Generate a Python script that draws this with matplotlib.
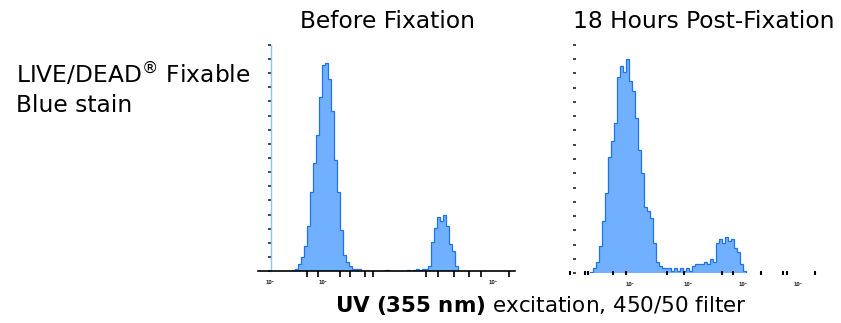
import numpy as np
import matplotlib
matplotlib.use("Agg")
import matplotlib.pyplot as plt

# event counts per 12-channel bin
before_start = 136
before_counts = [0.5, 1, 3, 6, 11, 20, 35, 48, 60, 77, 91, 92, 85, 71, 49, 35,
                 18, 7, 4, 2, 1, 1, 1, 0, 0, 0, 0, 0, 0, 0, 0, 0.5, 0, 0, 0, 0,
                 0, 0, 0.5, 0, 0.5, 1, 0.5, 1, 1, 2, 13, 19, 24, 22, 25, 20, 12,
                 9, 2]

after_start = 108
after_counts = [0.5, 2, 5, 12, 23, 35, 51, 58, 66, 86, 91, 88, 94, 84, 80, 68,
                54, 44, 29, 27, 24, 13, 5, 3, 2, 2, 2, 1, 2, 1, 2, 1, 2, 1, 3,
                4, 4, 4, 5, 4, 6, 5, 13, 15, 13, 16, 14, 15, 11, 9, 4, 1]
bin_width = 12

before_xticks = [196, 240, 328, 368, 428, 460, 668, 716, 780, 840, 888, 1000]
after_xticks = [28, 88, 100, 200, 252, 416, 484, 636, 680, 792, 880, 896, 1008]
before_decades = [(48, "10⁰"), (260, "10¹"), (936, "10³")]
after_decades = [(268, "10¹"), (500, "10²"), (720, "10³"), (940, "10⁴")]
yticks = np.linspace(0, 100, 17)

fill_c = "#70b0ff"
edge_c = "#1f74ee"

W, H = 841, 323
fig = plt.figure(figsize=(W / 100, H / 100), dpi=100)


def panel(rect, start, counts, xticks, decades, with_line):
    ax = fig.add_axes(rect)
    edges = start + bin_width * np.arange(len(counts) + 1)
    ax.stairs(counts, edges, fill=True, color=fill_c, lw=0)
    ax.stairs(counts, edges, color=edge_c, lw=0.9)
    ax.set_xlim(0, 1024)
    ax.set_ylim(0, 100)
    for s in ["top", "right"]:
        ax.spines[s].set_visible(False)
    ax.spines["left"].set_position(("data", 52))
    ax.spines["left"].set_color("#8cc2ff")
    ax.spines["left"].set_linewidth(1.0)
    if with_line:
        ax.spines["bottom"].set_color("black")
        ax.spines["bottom"].set_linewidth(1.2)
        ax.tick_params(axis="x", direction="out", length=4, width=1.2)
    else:
        ax.spines["bottom"].set_visible(False)
        ax.spines["left"].set_visible(False)
        ax.tick_params(axis="x", direction="inout", length=3, width=1.5)
    ax.set_xticks(xticks)
    ax.set_yticks(yticks)
    ax.tick_params(labelbottom=False, labelleft=False)
    ax.xaxis.offsetText.set_visible(False)
    ax.yaxis.offsetText.set_visible(False)
    ax.tick_params(axis="y", direction="out", length=2.5, width=1.2,
                   color="#222222")
    for x, lab in decades:
        ax.text(x, -0.04, lab, transform=ax.get_xaxis_transform(),
                fontsize=3.5, fontweight="bold", ha="center", va="top",
                color="#222222")
    ax.text(15, 0.55, "Count", transform=ax.get_yaxis_transform(),
            fontsize=3, rotation=90, ha="center", va="center",
            color="#333333")
    ax.patch.set_alpha(0)
    return ax


panel([258 / W, 52 / H, 257 / W, 226 / H], before_start, before_counts,
      before_xticks, before_decades, True)
panel([563 / W, 50 / H, 256 / W, 228 / H], after_start, after_counts,
      after_xticks, after_decades, False)

fig.text(388 / W, 1 - 28 / H, "Before Fixation", fontsize=16.8,
         ha="center", va="baseline")
fig.text(704 / W, 1 - 28 / H, "18 Hours Post-Fixation", fontsize=16.8,
         ha="center", va="baseline")
fig.text(16 / W, 1 - 83 / H, "LIVE/DEAD$^{\\mathrm{®}}$ Fixable",
         fontsize=16.8, ha="left", va="baseline")
fig.text(16 / W, 1 - 112 / H, "Blue stain", fontsize=16.8,
         ha="left", va="baseline")
fig.text(541 / W, 1 - 312 / H,
         "$\\bf{UV\\ (355\\ nm)}$ excitation, 450/50 filter",
         fontsize=15.5, ha="center", va="baseline")

fig.savefig("out.png", dpi=100)
